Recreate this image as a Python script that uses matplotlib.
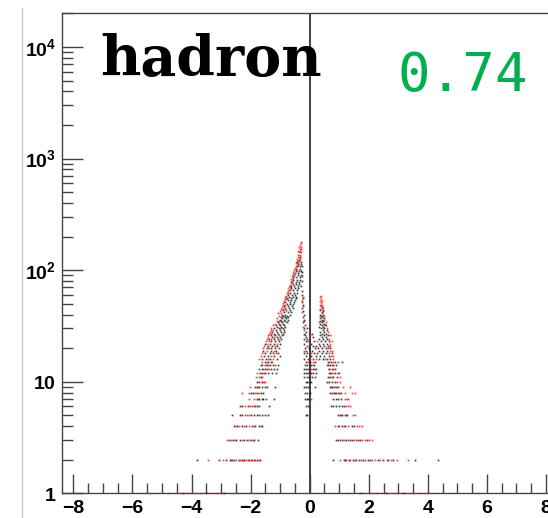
import math
import matplotlib
matplotlib.use("Agg")
import matplotlib.pyplot as plt
from matplotlib.ticker import FixedLocator, LogLocator, FuncFormatter, NullFormatter
from matplotlib.lines import Line2D

plt.rcParams['mathtext.fontset'] = 'custom'
plt.rcParams['mathtext.rm'] = 'Liberation Sans'
plt.rcParams['mathtext.bf'] = 'Liberation Sans:bold'

# --- counts per x, one (n, [x, ...]) row per entry ---
left_black_rows = [
    (2, [-3.80, -3.07, -2.83, -2.70, -2.62, -2.55, -2.41, -2.30, -2.22, -2.10, -1.98, -1.90, -1.78, -1.68]),
    (3, [-2.72, -2.60, -2.48, -2.37, -2.22, -2.12, -1.98, -1.88, -1.75]),
    (4, [-2.56, -2.45, -2.30, -2.14, -1.96, -1.85, -1.73, -1.60]),
    (5, [-2.64, -2.36, -2.28, -1.98, -1.90, -1.80, -1.72, -1.62, -1.52, -1.42]),
    (6, [-2.36, -2.30, -2.10, -1.90, -1.78, -1.70, -1.37]),
    (7, [-1.80, -1.70, -1.62, -1.57, -1.48, -1.21]),
    (8, [-2.00, -1.92, -1.78, -1.66, -1.58]),
    (9, [-1.85, -1.78, -1.70, -1.62, -1.51, -1.46, -1.17]),
    (10, [-1.77, -1.70, -1.62]),
    (11, [-1.66]),
    (12, [-1.68, -1.60, -1.50, -1.40, -1.28, -1.15]),
    (13, [-1.72, -1.62, -1.52, -1.45, -1.30, -1.20, -1.12]),
    (14, [-1.65, -1.52, -1.45, -1.35, -1.25, -1.06]),
    (15, [-1.52, -1.40, -1.30]),
    (16, [-1.62, -1.48, -1.33, -1.12]),
    (17, [-1.55, -1.42, -1.20, -1.02]),
    (18, [-1.50, -1.36, -1.25, -1.08]),
    (19, [-1.58, -1.30, -1.15]),
    (20, [-1.45, -1.32, -1.18, -1.05]),
    (21, [-1.40, -1.26, -1.10]),
    (22, [-1.52, -1.35, -1.22, -1.02]),
    (23, [-1.30, -1.16, -1.05]),
    (24, [-1.38, -1.20, -1.08, -0.98]),
    (25, [-1.28, -1.12, -1.00]),
    (26, [-1.32, -1.18, -0.95]),
    (27, [-1.22, -1.06, -0.90]),
    (28, [-1.26, -1.10, -0.98, -0.86]),
    (29, [-1.15, -1.02, -0.88]),
    (30, [-1.20, -1.05, -0.92]),
    (31, [-1.10, -0.96, -0.82]),
    (32, [-1.14, -1.00, -0.86]),
    (33, [-1.04, -0.90]),
    (34, [-1.08, -0.94, -0.78]),
    (35, [-0.98, -0.85]),
    (36, [-1.02, -0.88, -0.74]),
    (37, [-0.95, -0.80]),
    (38, [-0.98, -0.84, -0.72]),
    (39, [-0.90, -0.76]),
    (40, [-0.94, -0.82, -0.68]),
    (42, [-0.88, -0.74, -0.62]),
    (44, [-0.92, -0.80, -0.66]),
    (46, [-0.84, -0.70, -0.58]),
    (48, [-0.86, -0.72, -0.60]),
    (50, [-0.78, -0.66, -0.55]),
    (52, [-0.82, -0.68, -0.52]),
    (54, [-0.74, -0.62, -0.50]),
    (56, [-0.76, -0.64, -0.48]),
    (58, [-0.70, -0.58, -0.47]),
    (60, [-0.72, -0.60, -0.50]),
    (63, [-0.66, -0.54, -0.44]),
    (66, [-0.68, -0.56, -0.42]),
    (69, [-0.62, -0.50, -0.40]),
    (72, [-0.64, -0.52, -0.38]),
    (75, [-0.58, -0.46, -0.36]),
    (78, [-0.60, -0.48, -0.35]),
    (82, [-0.55, -0.44, -0.34]),
    (86, [-0.58, -0.45, -0.32]),
    (90, [-0.52, -0.40, -0.30]),
    (94, [-0.50, -0.38]),
    (98, [-0.48, -0.36, -0.28]),
    (103, [-0.46, -0.34]),
    (108, [-0.44, -0.32, -0.26]),
    (113, [-0.40, -0.30]),
    (118, [-0.42, -0.29]),
    (124, [-0.36]),
    (130, [-0.34]),
]

left_red_rows = [
    (2, [-3.45, -2.92, -2.66, -2.50, -2.36, -2.26, -2.16, -2.04, -1.94, -1.84, -1.72]),
    (3, [-2.79, -2.66, -2.54, -2.30, -2.05, -1.92]),
    (4, [-2.50, -2.38, -2.22, -2.05, -1.90, -1.66]),
    (5, [-2.20, -2.12, -2.04]),
    (6, [-2.20, -2.02, -1.96, -1.84]),
    (7, [-2.05, -1.89, -1.76]),
    (8, [-2.30, -2.06, -1.84, -1.72]),
    (9, [-2.02, -1.74]),
    (10, [-1.60, -1.56, -1.51]),
    (11, [-1.83, -1.71, -1.60]),
    (12, [-1.77, -1.55]),
    (13, [-1.58, -1.38]),
    (14, [-1.60, -1.40, -1.17]),
    (15, [-1.60, -1.45, -1.27]),
    (16, [-1.70, -1.40, -1.25]),
    (17, [-1.66, -1.30]),
    (18, [-1.62, -1.15]),
    (19, [-1.45, -1.22]),
    (20, [-1.58, -1.38]),
    (21, [-1.55, -1.18]),
    (22, [-1.44, -1.12]),
    (23, [-1.48, -1.38]),
    (24, [-1.45, -1.30]),
    (25, [-1.40, -1.20]),
    (26, [-1.42, -1.05]),
    (27, [-1.38, -1.30]),
    (28, [-1.35]),
    (29, [-1.32, -1.25]),
    (30, [-1.30, -0.98]),
    (32, [-1.25]),
    (33, [-1.18]),
    (35, [-1.12, -1.05]),
    (37, [-1.10]),
    (39, [-1.04]),
    (41, [-1.06, -0.98]),
    (43, [-1.00]),
    (45, [-0.98, -0.90]),
    (47, [-0.95]),
    (49, [-0.92, -0.85]),
    (51, [-0.90]),
    (53, [-0.88]),
    (55, [-0.85, -0.80]),
    (57, [-0.82]),
    (59, [-0.80]),
    (62, [-0.78, -0.72]),
    (65, [-0.75]),
    (68, [-0.72]),
    (71, [-0.70, -0.66]),
    (74, [-0.68]),
    (77, [-0.65]),
    (80, [-0.62]),
    (84, [-0.62, -0.56]),
    (88, [-0.60]),
    (92, [-0.56]),
    (96, [-0.55]),
    (100, [-0.52, -0.44]),
    (105, [-0.50]),
    (110, [-0.48, -0.40]),
    (115, [-0.46, -0.38]),
    (120, [-0.44, -0.36]),
    (126, [-0.42, -0.34]),
    (132, [-0.40, -0.32]),
    (138, [-0.38, -0.34]),
    (144, [-0.36, -0.30]),
    (150, [-0.38, -0.32]),
    (156, [-0.34, -0.30]),
    (162, [-0.35, -0.28]),
    (168, [-0.32]),
    (174, [-0.30]),
    (180, [-0.31]),
]

mid_black_rows = [
    (5, [-0.14, -0.10]),
    (6, [-0.12, -0.05]),
    (7, [-0.15, -0.10, -0.05]),
    (8, [-0.15, -0.08, 0.00]),
    (9, [-0.19, -0.12, -0.06, 0.18]),
    (10, [-0.14, -0.08, -0.02, 0.06]),
    (11, [-0.18, -0.10, -0.04, 0.08, 0.18]),
    (12, [-0.19, -0.12, -0.05, 0.05, 0.12, 0.22]),
    (13, [-0.20, -0.12, -0.05, 0.10, 0.18]),
    (14, [-0.15, -0.08, 0.04, 0.15]),
    (15, [-0.12, 0.00, 0.18]),
    (16, [-0.18, -0.06, 0.12]),
    (17, [-0.14, 0.05, 0.20]),
    (18, [-0.20, -0.08, 0.15]),
    (19, [-0.12, 0.08]),
    (20, [-0.16, -0.04, 0.18]),
    (21, [-0.10, 0.12]),
    (22, [-0.18, 0.06]),
    (23, [-0.14, 0.14]),
    (24, [-0.20, -0.08]),
    (25, [-0.12, 0.10]),
    (26, [-0.16]),
    (27, [-0.18, 0.08]),
    (28, [-0.14]),
    (30, [-0.20, -0.10]),
    (32, [-0.16]),
    (34, [-0.22]),
    (36, [-0.18]),
    (38, [-0.24]),
    (40, [-0.20]),
    (43, [-0.22]),
    (46, [-0.25]),
    (49, [-0.23]),
    (52, [-0.26]),
    (56, [-0.24]),
    (60, [-0.27]),
    (65, [-0.25]),
    (72, [-0.28]),
    (80, [-0.26]),
    (88, [-0.27]),
    (96, [-0.25]),
]

mid_red_rows = [
    (7, [0.06]),
    (12, [0.00]),
    (13, [0.04, 0.20]),
    (14, [0.10]),
    (15, [-0.05, 0.10]),
    (16, [0.02, 0.22]),
    (18, [0.04]),
    (19, [-0.20]),
    (21, [0.22]),
    (23, [-0.06]),
    (26, [0.02]),
    (29, [-0.18]),
    (31, [-0.22]),
    (35, [-0.20]),
    (42, [-0.26]),
    (48, [-0.24]),
    (54, [-0.25]),
    (58, [-0.22]),
]

right_black_rows = [
    (2, [0.78, 1.16, 1.24, 1.33, 1.45, 1.52, 1.66, 1.80, 1.96, 2.05, 2.30, 2.49, 2.66, 2.82, 3.56, 4.35]),
    (3, [0.89, 0.97, 1.10, 1.22, 1.35, 1.42, 1.62, 1.70, 1.95]),
    (4, [0.95, 1.10, 1.20, 1.42, 1.50]),
    (5, [0.95, 1.02, 1.10, 1.18, 1.25]),
    (6, [0.72, 0.80, 0.90, 1.00, 1.08, 1.15]),
    (7, [0.78, 0.88, 0.95, 1.05]),
    (8, [0.69, 0.76, 0.82, 0.90, 1.00, 1.06]),
    (9, [0.69, 0.75, 0.82, 0.90, 0.97]),
    (10, [0.58, 0.66, 0.76, 0.85]),
    (11, [0.63, 0.70, 0.80, 0.92]),
    (12, [0.64, 0.72, 0.85, 0.95]),
    (13, [0.66, 0.74, 0.86]),
    (14, [0.62, 0.70, 0.78, 0.88]),
    (15, [0.61, 0.72, 0.84, 1.08]),
    (16, [0.30, 0.44, 0.58, 0.70]),
    (17, [0.36, 0.50, 0.64]),
    (18, [0.26, 0.40, 0.55, 0.74]),
    (19, [0.32, 0.46, 0.60]),
    (20, [0.28, 0.42, 0.56, 0.68]),
    (21, [0.34, 0.48, 0.62]),
    (22, [0.30, 0.44, 0.58]),
    (23, [0.38, 0.52, 0.66]),
    (24, [0.32, 0.46, 0.60]),
    (25, [0.40, 0.54]),
    (26, [0.34, 0.48, 0.62]),
    (27, [0.42, 0.56]),
    (28, [0.36, 0.50]),
    (29, [0.44, 0.58]),
    (30, [0.38, 0.50]),
    (31, [0.32, 0.46]),
    (32, [0.40, 0.52]),
    (33, [0.36, 0.48]),
    (34, [0.42]),
    (35, [0.34, 0.46]),
    (36, [0.40]),
    (37, [0.36, 0.48]),
    (38, [0.42]),
    (39, [0.38]),
    (40, [0.34, 0.44]),
    (42, [0.40]),
    (44, [0.36, 0.46]),
    (46, [0.42]),
    (48, [0.38]),
]

right_red_rows = [
    (2, [1.03, 1.20, 1.38, 1.58, 1.72, 1.88, 2.12, 2.20, 2.38, 2.61, 2.75, 2.94, 3.34]),
    (3, [1.02, 1.16, 1.30, 1.50, 1.56, 1.78, 1.86, 2.02, 2.10]),
    (4, [0.86, 1.00, 1.15, 1.30, 1.60, 1.68, 1.76]),
    (5, [1.06, 1.22, 1.45, 1.53]),
    (6, [1.22, 1.28, 1.36]),
    (7, [1.18, 1.25, 1.31]),
    (8, [0.86, 0.95, 1.20, 1.42, 1.52]),
    (9, [0.72, 1.14, 1.36]),
    (10, [0.93, 1.03]),
    (11, [0.75, 1.02]),
    (12, [0.68, 0.78, 1.00]),
    (13, [0.64, 0.80]),
    (14, [0.59, 0.74]),
    (15, [0.66, 0.78, 0.96]),
    (16, [0.52, 0.78]),
    (17, [0.72, 0.80]),
    (18, [0.66]),
    (19, [0.70, 0.76]),
    (20, [0.62]),
    (21, [0.22, 0.70]),
    (22, [0.68]),
    (23, [0.26, 0.74]),
    (24, [0.66]),
    (26, [0.70]),
    (28, [0.62]),
    (30, [0.58]),
    (32, [0.56]),
    (34, [0.30, 0.54]),
    (36, [0.50]),
    (39, [0.48]),
    (41, [0.40]),
    (43, [0.44]),
    (45, [0.36]),
    (47, [0.44]),
    (49, [0.34, 0.40]),
    (51, [0.38]),
    (53, [0.36, 0.42]),
    (55, [0.38]),
    (57, [0.36]),
    (59, [0.38]),
]

# entries with a single count sit on the bottom edge
floor_black_x = [-4.30, -3.50, -2.90, 1.70, 2.60, 3.20]
floor_red_x = [-5.40, -4.79, -4.28, -4.11, -3.99, -3.71, -3.26, -3.15, -2.98, -2.47, -2.02, -1.79,
               1.25, 1.81, 2.04, 2.27, 2.61, 2.95, 3.17, 3.51, 3.73, 3.96, 5.72]

label_text = "hadron"
score_text = "0.74"


def flatten(*groups):
    xs, ns = [], []
    for rows in groups:
        for n, row in rows:
            xs.extend(row)
            ns.extend([n] * len(row))
    return xs, ns


bx, bn = flatten(left_black_rows, mid_black_rows, right_black_rows)
rx, rn = flatten(left_red_rows, mid_red_rows, right_red_rows)

fig = plt.figure(figsize=(5.48, 5.18), dpi=100)
ax = fig.add_axes([61.6 / 548, 24.7 / 518, 496.2 / 548, 480.6 / 518])

ax.set_yscale('log')
ax.set_xlim(-8.4, 8.4)
ax.set_ylim(1, 2.03e4)

ax.axvline(0, color='#222222', lw=1.2, zorder=1)

dot = dict(ls='none', marker='s', ms=1.25, mew=0, zorder=3)
ax.plot(bx, bn, color='black', alpha=0.75, **dot)
ax.plot(rx, rn, color='red', alpha=0.75, **dot)
ax.plot(floor_black_x, [1] * len(floor_black_x), color='black', alpha=0.45, clip_on=False, **dot)
ax.plot(floor_red_x, [1] * len(floor_red_x), color='red', alpha=0.45, clip_on=False, **dot)

# ROOT-like frame: ticks inside, no right/top ticks
for side in ['left', 'bottom', 'top']:
    ax.spines[side].set_color('#444444')
    ax.spines[side].set_linewidth(1.0)
ax.spines['right'].set_visible(False)

ax.xaxis.set_major_locator(FixedLocator([-8, -6, -4, -2, 0, 2, 4, 6, 8]))
ax.xaxis.set_minor_locator(FixedLocator([v / 2 for v in range(-16, 17)]))
ax.yaxis.set_major_locator(LogLocator(base=10, numticks=10))
ax.yaxis.set_minor_locator(LogLocator(base=10, subs=range(2, 10), numticks=20))
ax.yaxis.set_minor_formatter(NullFormatter())


def ylab(v, pos):
    if v < 5:
        return r'$\mathbf{1}$'
    if v < 50:
        return r'$\mathbf{10}$'
    return r'$\mathbf{10^{%d}}$' % int(round(math.log10(v)))


ax.yaxis.set_major_formatter(FuncFormatter(ylab))
ax.tick_params(axis='both', which='both', direction='in', color='#444444', width=1.0)
ax.tick_params(axis='x', which='major', length=14, pad=4.5)
ax.tick_params(axis='x', which='minor', length=7)
ax.tick_params(axis='y', which='major', length=15, pad=4)
ax.tick_params(axis='y', which='minor', length=8)
for lab in ax.get_xticklabels():
    lab.set_fontfamily('Liberation Sans')
    lab.set_fontweight('bold')
    lab.set_fontsize(14)
ax.tick_params(axis='y', labelsize=14)

ax.text(100 / 548, 1 - 76 / 518, label_text, transform=fig.transFigure, family='DejaVu Serif',
        weight='bold', fontsize=40, color='black', va='baseline', ha='left', zorder=5)
ax.text(528 / 548, 1 - 91 / 518, score_text, transform=fig.transFigure, family='DejaVu Sans Mono',
        fontsize=39, color='#00b050', va='baseline', ha='right', zorder=5)

fig.add_artist(Line2D([22 / 548, 22 / 548], [0, 1 - 8 / 518], transform=fig.transFigure,
                      color='#c8c8c8', lw=1.0))

fig.savefig('out.png', dpi=100)
